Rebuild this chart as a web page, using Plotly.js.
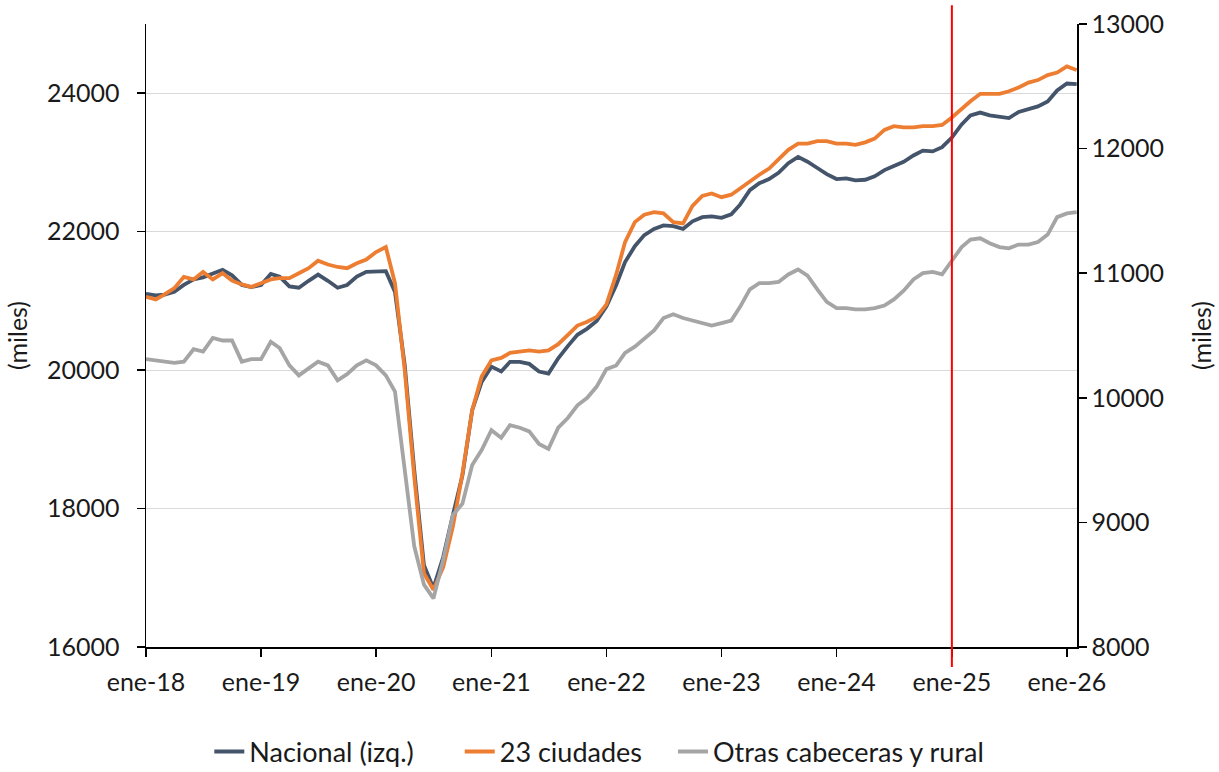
<!DOCTYPE html>
<html>
<head>
<meta charset="utf-8">
<script src="https://cdn.plot.ly/plotly-3.0.1.min.js"></script>
<style>html,body{margin:0;padding:0;background:#fff;}#chart{width:1219px;height:772px;}</style>
</head>
<body>
<div id="chart"></div>
<script>
// Monthly series, Jan 2018 - Feb 2026 (thousands)
const startYear = 2018, nMonths = 98;
const months = [];
for (let i = 0; i < nMonths; i++) {
  const y = startYear + Math.floor(i / 12), m = (i % 12) + 1;
  months.push(y + "-" + String(m).padStart(2, "0") + "-01");
}

const nacional = [21100,21080,21090,21130,21230,21310,21340,21390,21450,21370,
  21230,21200,21230,21390,21350,21210,21190,21290,21380,21290,
  21190,21230,21350,21420,21430,21430,21130,20070,18560,17180,
  16850,17300,17910,18480,19420,19830,20050,19980,20120,20120,
  20090,19980,19950,20170,20350,20510,20600,20710,20920,21230,
  21560,21790,21950,22040,22090,22080,22040,22150,22210,22220,
  22200,22250,22390,22600,22700,22760,22850,22990,23080,23010,
  22920,22830,22760,22770,22740,22750,22800,22890,22950,23010,
  23100,23170,23160,23220,23360,23550,23680,23720,23680,23660,
  23640,23730,23770,23810,23880,24040,24140,24130];

const ciudades23 = [10810,10790,10830,10880,10970,10950,11010,10950,11000,10940,
  10910,10890,10920,10950,10960,10960,11000,11040,11100,11070,
  11050,11040,11080,11110,11170,11210,10920,10220,9370,8590,
  8460,8640,8970,9390,9900,10170,10300,10320,10360,10370,
  10380,10370,10380,10430,10510,10580,10610,10650,10750,10990,
  11250,11410,11470,11490,11480,11410,11400,11540,11620,11640,
  11610,11630,11680,11740,11790,11840,11910,11990,12040,12040,
  12060,12060,12040,12040,12030,12050,12080,12150,12180,12170,
  12170,12180,12180,12190,12250,12320,12380,12440,12440,12440,
  12460,12490,12530,12550,12590,12610,12660,12630];

const otras = [10310,10300,10290,10280,10290,10390,10370,10480,10460,10460,
  10290,10310,10310,10450,10400,10260,10180,10240,10290,10260,
  10140,10190,10260,10300,10260,10180,10050,9420,8810,8500,
  8390,8700,9060,9150,9460,9580,9740,9680,9780,9760,
  9730,9630,9590,9760,9840,9940,10000,10090,10230,10260,
  10360,10410,10470,10540,10640,10670,10640,10620,10600,10580,
  10600,10620,10730,10870,10920,10920,10930,10990,11030,10980,
  10870,10770,10720,10720,10710,10710,10720,10740,10790,10860,
  10950,11000,11010,10990,11100,11210,11270,11280,11240,11210,
  11200,11230,11230,11250,11310,11450,11480,11490];

const tickDates = ["2018-01-01","2019-01-01","2020-01-01","2021-01-01","2022-01-01","2023-01-01","2024-01-01","2025-01-01","2026-01-01"];
const tickLabels = ["ene-18","ene-19","ene-20","ene-21","ene-22","ene-23","ene-24","ene-25","ene-26"];
const markerDate = "2025-01-01";

const FONT = "Lato, 'Open Sans', sans-serif";
const TXT = "#1a1a1a";

const traces = [
  {x: months, y: nacional, name: "Nacional (izq.)", type: "scatter", mode: "lines",
   line: {color: "#44546a", width: 3.8}, yaxis: "y", legend: "legend"},
  {x: months, y: ciudades23, name: "23 ciudades", type: "scatter", mode: "lines",
   line: {color: "#ed7d31", width: 3.8}, yaxis: "y2", legend: "legend2"},
  {x: months, y: otras, name: "Otras cabeceras y rural", type: "scatter", mode: "lines",
   line: {color: "#a5a5a5", width: 3.8}, yaxis: "y2", legend: "legend3"}
];

function leg(xPaper) {
  return {orientation: "h", xref: "paper", x: xPaper, xanchor: "left",
          yref: "container", y: 0.026, yanchor: "middle",
          font: {family: FONT, size: 27, color: TXT}, bgcolor: "rgba(0,0,0,0)",
          borderwidth: 0, itemwidth: 30};
}

const layout = {
  width: 1219, height: 772,
  margin: {l: 146, r: 142, t: 24, b: 125, pad: 0},
  paper_bgcolor: "#ffffff", plot_bgcolor: "#ffffff",
  font: {family: FONT, size: 25, color: TXT},
  showlegend: true,
  legend: leg(0.068),
  legend2: leg(0.337),
  legend3: leg(0.566),
  xaxis: {
    type: "date", range: ["2018-01-01", "2026-02-02"],
    tickmode: "array", tickvals: tickDates, ticktext: tickLabels,
    ticks: "outside", ticklen: 8, tickwidth: 1.5, tickcolor: "#000",
    ticklabelstandoff: 4,
    showline: true, linecolor: "#000", linewidth: 1.5,
    showgrid: false, zeroline: false, automargin: false,
    tickfont: {family: FONT, size: 25, color: TXT}
  },
  yaxis: {
    range: [16000, 25000], tickmode: "array", tickvals: [16000,18000,20000,22000,24000],
    tickformat: "d",
    ticks: "outside", ticklen: 8, tickwidth: 1.5, tickcolor: "#000",
    ticklabelstandoff: 12, automargin: false,
    showline: true, linecolor: "#000", linewidth: 1.5,
    showgrid: true, gridcolor: "#d9d9d9", gridwidth: 1.2, zeroline: false,
    tickfont: {family: FONT, size: 25, color: TXT},
    title: {text: "(miles)", font: {family: FONT, size: 25, color: TXT}, standoff: 12}
  },
  yaxis2: {
    overlaying: "y", side: "right",
    range: [8000, 13000], tickmode: "array", tickvals: [8000,9000,10000,11000,12000,13000],
    tickformat: "d",
    ticks: "outside", ticklen: 8, tickwidth: 1.5, tickcolor: "#000",
    ticklabelstandoff: 0, automargin: false,
    showline: true, linecolor: "#000", linewidth: 1.5,
    showgrid: false, zeroline: false,
    tickfont: {family: FONT, size: 25, color: TXT},
    title: {text: "(miles)", font: {family: FONT, size: 25, color: TXT}, standoff: 30}
  },
  shapes: [{
    type: "line", xref: "x", yref: "paper", x0: markerDate, x1: markerDate,
    y0: -0.032, y1: 1.03, line: {color: "#ff0000", width: 2}
  }]
};

Plotly.newPlot("chart", traces, layout, {displayModeBar: false, staticPlot: true});
</script>
</body>
</html>
